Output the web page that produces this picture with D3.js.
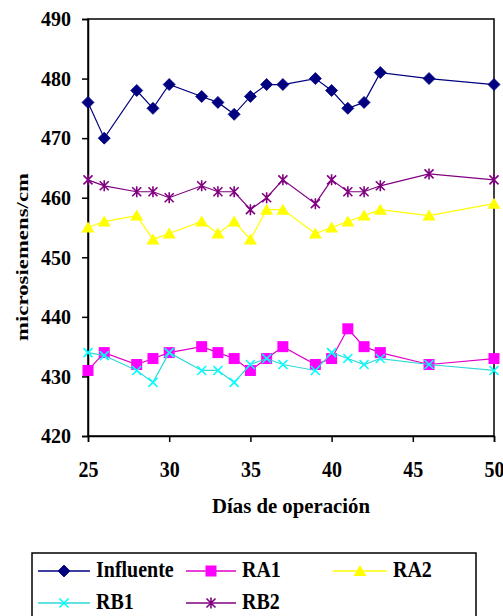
<!DOCTYPE html>
<html>
<head>
<meta charset="utf-8">
<script src="https://cdn.jsdelivr.net/npm/d3@7"></script>
<style>
  html, body { margin: 0; padding: 0; background: #fff; }
  svg { display: block; }
</style>
</head>
<body>
<svg id="chart" width="503" height="616"></svg>
<script>
// ---- data ----
const days = [25, 26, 28, 29, 30, 32, 33, 34, 35, 36, 37, 39, 40, 41, 42, 43, 46, 50];
const influente = [476, 470, 478, 475, 479, 477, 476, 474, 477, 479, 479, 480, 478, 475, 476, 481, 480, 479];
const ra1 = [431, 434, 432, 433, 434, 435, 434, 433, 431, 433, 435, 432, 433, 438, 435, 434, 432, 433];
const ra2 = [455, 456, 457, 453, 454, 456, 454, 456, 453, 458, 458, 454, 455, 456, 457, 458, 457, 459];
const rb1 = [434, 433.5, 431, 429, 434, 431, 431, 429, 432, 433, 432, 431, 434, 433, 432, 433, 432, 431];
const rb2 = [463, 462, 461, 461, 460, 462, 461, 461, 458, 460, 463, 459, 463, 461, 461, 462, 464, 463];
const seriesNames = ["Influente", "RA1", "RA2", "RB1", "RB2"];
const xTicks = [25, 30, 35, 40, 45, 50];
const yTicks = [420, 430, 440, 450, 460, 470, 480, 490];
const xTitle = "Días de operación";
const yTitle = "microsiemens/cm";

const FONT = "\"Liberation Serif\", serif";

// ---- styles ----
const seriesStyle = [
  { values: influente, line: "#000080", fill: "#000080", marker: "diamond" },
  { values: ra1,       line: "#E000C8", fill: "#FF00FF", marker: "square" },
  { values: ra2,       line: "#FFFF00", fill: "#FFFF00", marker: "triangle" },
  { values: rb1,       line: "#30D8D8", fill: "#00FFFF", marker: "x" },
  { values: rb2,       line: "#800080", fill: "#800080", marker: "star" }
];

const svg = d3.select("#chart");
const L = 88, R = 494, T = 19, B = 436;
const x = d3.scaleLinear().domain([25, 50]).range([L, R]);
const y = d3.scaleLinear().domain([420, 490]).range([B, T]);

function styleText(sel, size) {
  sel.attr("font-family", null).attr("font-size", size)
     .style("font-family", FONT).style("font-weight", "bold").attr("fill", "#000");
}

// plot border
svg.append("rect").attr("x", L).attr("y", T).attr("width", R - L).attr("height", B - T)
  .attr("fill", "#fff").attr("stroke", "#000").attr("stroke-width", 1.5);

// axes
const gy = svg.append("g").attr("transform", `translate(${L},0)`)
  .call(d3.axisLeft(y).tickValues(yTicks).tickSize(6).tickPadding(11).tickFormat(d3.format("d")));
gy.attr("font-family", null).attr("font-size", null);
gy.select(".domain").attr("stroke", "#000").attr("stroke-width", 1.5);
gy.selectAll(".tick line").attr("stroke", "#000").attr("stroke-width", 1.5);
gy.selectAll(".tick text").call(styleText, 20).attr("dy", "0.34em");

const gx = svg.append("g").attr("transform", `translate(0,${B})`)
  .call(d3.axisBottom(x).tickValues(xTicks).tickSize(6).tickFormat(d3.format("d")));
gx.attr("font-family", null).attr("font-size", null);
gx.select(".domain").attr("stroke", "#000").attr("stroke-width", 1.5);
gx.selectAll(".tick line").attr("stroke", "#000").attr("stroke-width", 1.5);
gx.selectAll(".tick text").call(styleText, 20)
  .attr("y", 36).attr("dy", 0).attr("transform", "scale(1,1.15)");

// axis titles
svg.append("text").attr("transform", "translate(291,513) scale(1,1.1)")
  .attr("text-anchor", "middle").call(styleText, 20)
  .attr("textLength", 158).attr("lengthAdjust", "spacingAndGlyphs").text(xTitle);
svg.append("text").attr("transform", "translate(28,257) rotate(-90)")
  .attr("text-anchor", "middle").call(styleText, 17)
  .attr("textLength", 168).attr("lengthAdjust", "spacingAndGlyphs").text(yTitle);

// marker drawing
function drawMarker(g, type, color) {
  if (type === "diamond") {
    g.append("path").attr("d", "M0,-6L6,0L0,6L-6,0Z").attr("fill", color).attr("stroke", color).attr("stroke-width", 0.8);
  } else if (type === "square") {
    g.append("rect").attr("x", -5.5).attr("y", -5.5).attr("width", 11).attr("height", 11).attr("fill", color);
  } else if (type === "triangle") {
    g.append("path").attr("d", "M0,-6L6.5,5L-6.5,5Z").attr("fill", color);
  } else if (type === "x") {
    g.append("path").attr("d", "M-4.5,-4.5L4.5,4.5M-4.5,4.5L4.5,-4.5").attr("stroke", color).attr("stroke-width", 1.6).attr("fill", "none");
  } else if (type === "star") {
    g.append("path").attr("d", "M-4.5,-4.5L4.5,4.5M-4.5,4.5L4.5,-4.5M0,-5.5L0,5.5").attr("stroke", color).attr("stroke-width", 1.6).attr("fill", "none");
  }
}

// series
const line = d3.line().x(d => x(d[0])).y(d => y(d[1]));
seriesStyle.forEach((s) => {
  const pts = days.map((d, i) => [d, s.values[i]]);
  const g = svg.append("g");
  g.append("path").attr("d", line(pts)).attr("fill", "none").attr("stroke", s.line).attr("stroke-width", 1.2);
  pts.forEach(p => {
    const m = g.append("g").attr("transform", `translate(${x(p[0])},${y(p[1])})`);
    drawMarker(m, s.marker, s.fill);
  });
});

// legend
const lg = svg.append("g");
lg.append("rect").attr("x", 32).attr("y", 553).attr("width", 444).attr("height", 66)
  .attr("fill", "#fff").attr("stroke", "#000").attr("stroke-width", 1.5);
const legendPos = [
  { x0: 38, x1: 90, ty: 571 },
  { x0: 186, x1: 236, ty: 571 },
  { x0: 333, x1: 387, ty: 571 },
  { x0: 38, x1: 90, ty: 603 },
  { x0: 186, x1: 236, ty: 603 }
];
seriesNames.forEach((name, i) => {
  const p = legendPos[i], s = seriesStyle[i];
  lg.append("line").attr("x1", p.x0).attr("x2", p.x1).attr("y1", p.ty).attr("y2", p.ty)
    .attr("stroke", s.line).attr("stroke-width", 1.5);
  const m = lg.append("g").attr("transform", `translate(${(p.x0 + p.x1) / 2},${p.ty})`);
  drawMarker(m, s.marker, s.fill);
  lg.append("text").attr("transform", `translate(${p.x1 + 6},${p.ty + 6}) scale(1,1.2)`)
    .call(styleText, 20).text(name);
});
</script>
</body>
</html>
